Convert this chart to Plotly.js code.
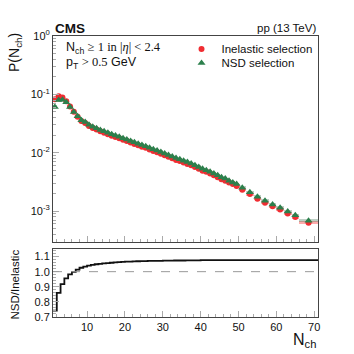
<!DOCTYPE html>
<html>
<head>
<meta charset="utf-8">
<script src="https://cdn.plot.ly/plotly-3.0.1.min.js"></script>
<style>html,body{margin:0;padding:0;background:#fff;}#chart{width:354px;height:354px;}</style>
</head>
<body>
<div id="chart"></div>
<script>
// Bin edges in N_ch (single bins up to 50, then 2-wide, last bin wide)
const binEdges = [1,2,3,4,5,6,7,8,9,10,11,12,13,14,15,16,17,18,19,20,21,22,23,24,25,26,27,28,29,30,
  31,32,33,34,35,36,37,38,39,40,41,42,43,44,45,46,47,48,49,50,52,54,56,58,60,62,64,66,71];

// P(N_ch), inelastic selection
const inelastic = [0.0822,0.0931,0.0882,0.0764,0.0621,0.0501,0.0415,0.0351,0.0324,0.0288,
  0.0266,0.0250,0.0234,0.0220,0.0208,0.0196,0.0186,0.0176,0.0166,0.0158,
  0.0149,0.0141,0.0134,0.0127,0.0121,0.0114,0.0107,0.0102,0.0096,0.0090,
  0.0085,0.0080,0.0075,0.0072,0.0068,0.0064,0.0061,0.0057,0.0053,0.0049,
  0.0047,0.0044,0.0041,0.0038,0.0035,0.0033,0.0031,0.0029,0.0027,
  0.00232,0.00195,0.00163,0.00139,0.00121,0.00106,0.00091,0.00079,
  0.00063];

// P(N_ch), NSD selection
const nsd = [0.061,0.080,0.081,0.073,0.061,0.050,0.042,0.036,0.0335,0.0300,
  0.0278,0.0262,0.0246,0.0232,0.0220,0.0208,0.0197,0.0187,0.0177,0.0168,
  0.0159,0.0151,0.0143,0.0136,0.0129,0.0122,0.0115,0.0109,0.0103,0.0097,
  0.0091,0.0086,0.0081,0.0077,0.0073,0.0069,0.0065,0.0061,0.0057,0.0053,
  0.0050,0.0047,0.0044,0.0041,0.0038,0.0036,0.0033,0.0031,0.0029,
  0.0025,0.0021,0.00175,0.0015,0.0013,0.00114,0.00098,0.00085,
  0.00068];

// NSD / Inelastic ratio per bin
const ratio = [0.742,0.859,0.918,0.955,0.982,0.998,1.013,1.026,1.034,1.040,
  1.045,1.049,1.052,1.055,1.057,1.059,1.061,1.063,1.065,1.066,
  1.067,1.068,1.069,1.070,1.070,1.071,1.071,1.072,1.072,1.073,
  1.073,1.073,1.074,1.074,1.074,1.075,1.075,1.075,1.075,1.076,
  1.076,1.076,1.076,1.076,1.076,1.076,1.076,1.076,1.076,
  1.077,1.077,1.077,1.077,1.077,1.077,1.077,1.077,
  1.077];

// relative systematic uncertainties
const sysInelastic = 0.06;
const sysNSD = 0.06;

// tick labels
const yTickVals = [0.001, 0.01, 0.1, 1];
const yTickText = ['10<sup>-3</sup>','10<sup>-2</sup>','10<sup>-1</sup>','10<sup>0</sup>'];
const xTickVals = [10,20,30,40,50,60,70];
const rTickVals = [0.7,0.8,0.9,1.0,1.1];

const centers = [], widths = [];
for (let i = 0; i < binEdges.length - 1; i++) {
  centers.push((binEdges[i] + binEdges[i+1]) / 2);
  widths.push(binEdges[i+1] - binEdges[i]);
}
function band(vals, rel) {
  return { base: vals.map(v => v * (1 - rel)), size: vals.map(v => 2 * v * rel) };
}
const bI = band(inelastic, sysInelastic), bN = band(nsd, sysNSD);

const RED = 'rgb(240,45,50)', GREEN = 'rgb(44,128,76)';
const FONT = 'Liberation Sans, Arial, sans-serif';

const traces = [
  {type:'bar', x:centers, y:bI.size, base:bI.base, width:widths, marker:{color:'rgba(255,70,70,0.45)', line:{width:0}}, showlegend:false, hoverinfo:'skip', xaxis:'x', yaxis:'y'},
  {type:'bar', x:centers, y:bN.size, base:bN.base, width:widths, marker:{color:'rgba(70,120,90,0.35)', line:{width:0}}, showlegend:false, hoverinfo:'skip', xaxis:'x', yaxis:'y'},
  {type:'scatter', mode:'markers', x:centers, y:inelastic, name:'Inelastic selection', legend:'legend', marker:{symbol:'circle', size:6, color:RED}, xaxis:'x', yaxis:'y'},
  {type:'scatter', mode:'markers', x:centers, y:nsd, name:'NSD selection', legend:'legend2', marker:{symbol:'triangle-up', size:7, color:GREEN}, xaxis:'x', yaxis:'y'},
  {type:'scatter', mode:'lines', x:binEdges, y:ratio.concat([ratio[ratio.length-1]]), line:{shape:'hv', color:'#111', width:1.8}, showlegend:false, xaxis:'x2', yaxis:'y2'}
];

const axLine = {showline:true, linecolor:'#444', linewidth:1, mirror:true, zeroline:false, showgrid:false};
const legBase = {xanchor:'left', yanchor:'middle', bgcolor:'rgba(0,0,0,0)', font:{size:11.5, family:FONT}, tracegroupgap:0};
const layout = {
  width:354, height:354,
  margin:{l:53, r:36, t:36, b:37},
  paper_bgcolor:'#fff', plot_bgcolor:'#fff',
  font:{family:FONT, size:11, color:'#111'},
  barmode:'overlay', bargap:0,
  showlegend:true,
  legend:Object.assign({}, legBase, {x:0.485, y:0.954}),
  legend2:Object.assign({}, legBase, {x:0.485, y:0.904}),
  xaxis:Object.assign({}, axLine, {domain:[0,1], anchor:'y', range:[1,71], tickvals:xTickVals, showticklabels:false,
    ticks:'inside', ticklen:6, tickcolor:'#aaa', minor:{dtick:2, ticks:'inside', ticklen:3, tickcolor:'#aaa'}}),
  yaxis:Object.assign({}, axLine, {domain:[0.267,1], anchor:'x', type:'log', range:[-3.53,0], tickmode:'array',
    tickvals:yTickVals, ticktext:yTickText, ticks:'inside', ticklen:6, tickcolor:'#aaa',
    minor:{dtick:'D1', ticks:'inside', ticklen:3, tickcolor:'#aaa'}, tickfont:{size:11}}),
  xaxis2:Object.assign({}, axLine, {domain:[0,1], anchor:'y2', range:[1,71], tickvals:xTickVals,
    ticks:'inside', ticklen:6, tickcolor:'#aaa', minor:{dtick:2, ticks:'inside', ticklen:3, tickcolor:'#aaa'}, tickfont:{size:11}}),
  yaxis2:Object.assign({}, axLine, {domain:[0,0.242], anchor:'x2', range:[0.7,1.15], tickvals:rTickVals, tickformat:'.1f',
    ticks:'inside', ticklen:6, tickcolor:'#aaa', minor:{dtick:0.02, ticks:'inside', ticklen:3, tickcolor:'#aaa'}, tickfont:{size:11}}),
  shapes:[{type:'line', xref:'x2 domain', yref:'y2', x0:0, x1:1, y0:1, y1:1, line:{color:'#999', width:1, dash:'dash'}}],
  annotations:[
    {text:'<b>CMS</b>', xref:'paper', yref:'paper', x:0, y:1.028, xanchor:'left', yanchor:'middle', showarrow:false, font:{size:13.5, family:FONT}},
    {text:'pp (13 TeV)', xref:'paper', yref:'paper', x:1, y:1.028, xanchor:'right', yanchor:'middle', showarrow:false, font:{size:11.5, family:FONT}},
    {text:'P(N<sub>ch</sub>)', xref:'paper', yref:'paper', x:-0.143, y:0.94, xanchor:'center', yanchor:'middle', textangle:-90, showarrow:false, font:{size:14, family:FONT}},
    {text:'NSD/Inelastic', xref:'paper', yref:'paper', x:-0.143, y:0.116, xanchor:'center', yanchor:'middle', textangle:-90, showarrow:false, font:{size:11.5, family:FONT}},
    {text:'N<sub>ch</sub>', xref:'paper', yref:'paper', x:1, y:-0.082, xanchor:'right', yanchor:'middle', showarrow:false, font:{size:16, family:FONT}},
    {text:'N<sub>ch</sub> <span style="font-family:Liberation Serif">≥ 1 in |<i>η</i>| &lt; 2.4</span>', xref:'paper', yref:'paper', x:0.04, y:0.957, xanchor:'left', yanchor:'middle', showarrow:false, font:{size:12.5, family:FONT}},
    {text:'p<sub>T</sub> <span style="font-family:Liberation Serif">&gt; 0.5</span> GeV', xref:'paper', yref:'paper', x:0.04, y:0.905, xanchor:'left', yanchor:'middle', showarrow:false, font:{size:12.5, family:FONT}}
  ]
};

Plotly.newPlot('chart', traces, layout, {staticPlot:true, displayModeBar:false});
</script>
</body>
</html>
